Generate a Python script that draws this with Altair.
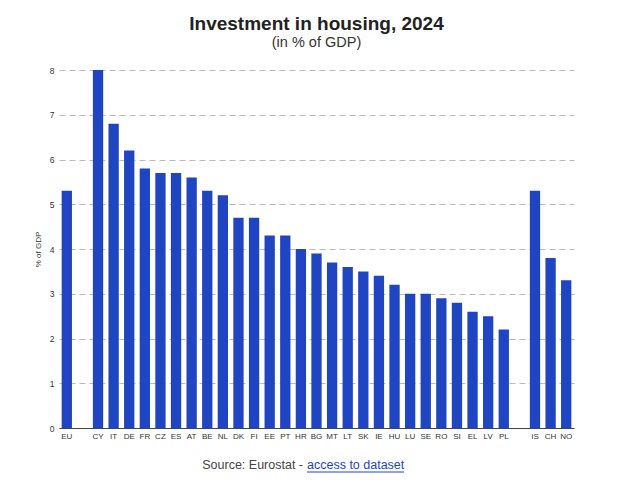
import altair as alt
import pandas as pd

countries = ["EU", "CY", "IT", "DE", "FR", "CZ", "ES", "AT", "BE", "NL", "DK", "FI", "EE", "PT",
             "HR", "BG", "MT", "LT", "SK", "IE", "HU", "LU", "SE", "RO", "SI", "EL", "LV", "PL",
             "IS", "CH", "NO"]
values = [5.3, 8.0, 6.8, 6.2, 5.8, 5.7, 5.7, 5.6, 5.3, 5.2, 4.7, 4.7, 4.3, 4.3,
          4.0, 3.9, 3.7, 3.6, 3.5, 3.4, 3.2, 3.0, 3.0, 2.9, 2.8, 2.6, 2.5, 2.2,
          5.3, 3.8, 3.3]
y_ticks = [0, 1, 2, 3, 4, 5, 6, 7, 8]

# Domain with empty slots separating EU / member states / EFTA
domain = ["EU", "_gap1"] + countries[1:28] + ["_gap2"] + countries[28:]

df = pd.DataFrame({"country": countries, "value": values})

W, H = 515, 358
FONT = "Liberation Sans"

bars = alt.Chart(df).mark_bar(color="#2045C2").encode(
    x=alt.X("country:N", sort=domain,
            scale=alt.Scale(domain=domain, paddingInner=0.34, paddingOuter=0.17),
            axis=alt.Axis(title=None, labelAngle=0, labelFontSize=8, labelColor="#333",
                          labelExpr="indexof(datum.value, '_gap') == 0 ? '' : datum.value",
                          ticks=False, labelPadding=4, domainColor="#444", domainWidth=1.2,
                          labelFont=FONT)),
    y=alt.Y("value:Q", scale=alt.Scale(domain=[0, 8], nice=False),
            axis=alt.Axis(title="% of GDP", values=y_ticks, format="d", titleFontSize=8,
                          titleFontWeight="normal", titleColor="#333", titlePadding=7,
                          labelFontSize=8.5, labelColor="#333", labelPadding=5, ticks=False,
                          domain=False, grid=True, gridDash=[6, 4], gridColor="#bbbbbb",
                          labelFont=FONT, titleFont=FONT))
)

src_a = alt.Chart(pd.DataFrame({"t": ["Source: Eurostat -"]})).mark_text(
    align="right", baseline="middle", fontSize=12.5, color="#444", font=FONT
).encode(text="t:N", x=alt.value(244), y=alt.value(395))
src_b = alt.Chart(pd.DataFrame({"t": ["access to dataset"]})).mark_text(
    align="left", baseline="middle", fontSize=12.5, color="#1a44d0", font=FONT
).encode(text="t:N", x=alt.value(248), y=alt.value(395))
underline = alt.Chart(pd.DataFrame({"t": [1]})).mark_rule(color="#1a44d0", strokeWidth=1).encode(
    x=alt.value(248), x2=alt.value(345), y=alt.value(402))

chart = alt.layer(bars, src_a, src_b, underline).properties(
    width=W, height=H,
    title=alt.TitleParams(
        "Investment in housing, 2024", subtitle="(in % of GDP)",
        fontSize=19, font=FONT, fontWeight="bold", color="#222",
        subtitleFontSize=14.5, subtitleFont=FONT, subtitleColor="#333",
        anchor="middle", offset=17, subtitlePadding=2),
    autosize=alt.AutoSizeParams(type="none"),
    padding={"left": 51, "top": 62, "right": 42, "bottom": 58}
).configure_view(stroke=None).configure_axis(labelFont=FONT)

chart.save("out.html", embed_options={"renderer": "svg", "actions": False})
